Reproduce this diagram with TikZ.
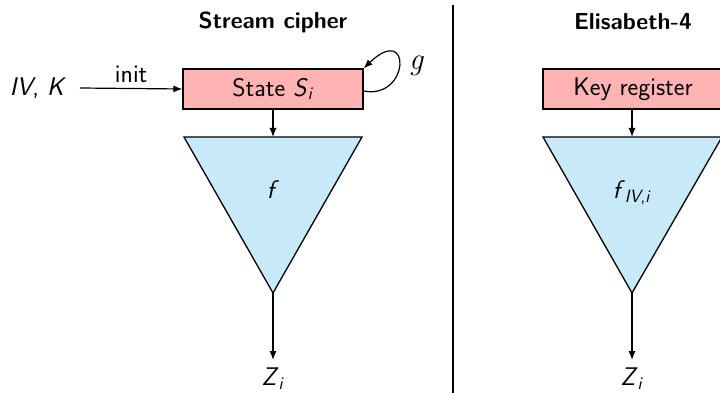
\documentclass[tikz,border=0pt]{standalone}
\usepackage{fontspec}
\usetikzlibrary{arrows.meta}
\renewcommand{\familydefault}{\sfdefault}
\newcommand{\mi}[1]{\textit{#1}}
\definecolor{regfill}{RGB}{255,179,179}
\definecolor{funcfill}{RGB}{199,233,248}
\begin{document}
\begin{tikzpicture}[x=1pt,y=-1pt,
  every node/.style={font=\fontsize{25.5}{30}\selectfont},
  title/.style={font=\fontsize{23.2}{27}\selectfont\bfseries},
  register/.style={draw,line width=1.3pt,fill=regfill,minimum width=180pt,minimum height=40pt,inner sep=0pt},
  func/.style={draw,line width=1.3pt,fill=funcfill,line join=miter},
  conn/.style={line width=1.2pt,-{Latex[length=9pt,width=7pt]}}]
\useasboundingbox (0,0) rectangle (720,393);
\clip (0,0) rectangle (720,393);

% divider between the two schemes
\draw[line width=1.6pt] (453,5) -- (453,393);

% left: generic stream cipher
\node[title] (t1) at (273,22) {Stream cipher};
\node[register] (state) at (273,89) {State \mi{S}\textsubscript{\mi{i}}};
\node (ivk) at (38,88) {\mi{IV}, \mi{K}};
\coordinate (ivkout) at (80,88);
\draw[conn] (ivkout) -- node[above=2pt] (init) {init} (state.west);
\draw[conn] (state.east |- 0,91) .. controls (410,100) and (412,22) .. (state.north east);
\node (g) at (416,66) {\fontsize{31}{36}\selectfont\rmfamily\itshape g};
\coordinate (f1a) at (184,137);
\coordinate (f1b) at (362,137);
\coordinate (f1c) at (273,293);
\draw[func] (f1a) -- (f1b) -- (f1c) -- cycle;
\node (f1) at (273,190) {\mi{f}};
\draw[conn] (state.south) -- (state.south |- f1a);
\node (z1) at (273,379) {\mi{Z}\textsubscript{\mi{i}}};
\coordinate (z1in) at (273,360);
\draw[conn] (f1c) -- (z1in);

% right: Elisabeth-4
\node[title] (t2) at (633,22) {Elisabeth-4};
\node[register] (key) at (633,89) {Key register};
\coordinate (f2a) at (543,137);
\coordinate (f2b) at (722,137);
\coordinate (f2c) at (632,293);
\draw[func] (f2a) -- (f2b) -- (f2c) -- cycle;
\node (f2) at (632,193) {\mi{f}\textsubscript{\mi{IV},\mi{i}}};
\draw[conn] (key.south -| f2c) -- (f2c |- f2a);
\node (z2) at (632,379) {\mi{Z}\textsubscript{\mi{i}}};
\coordinate (z2in) at (632,360);
\draw[conn] (f2c) -- (z2in);
\end{tikzpicture}
\end{document}
